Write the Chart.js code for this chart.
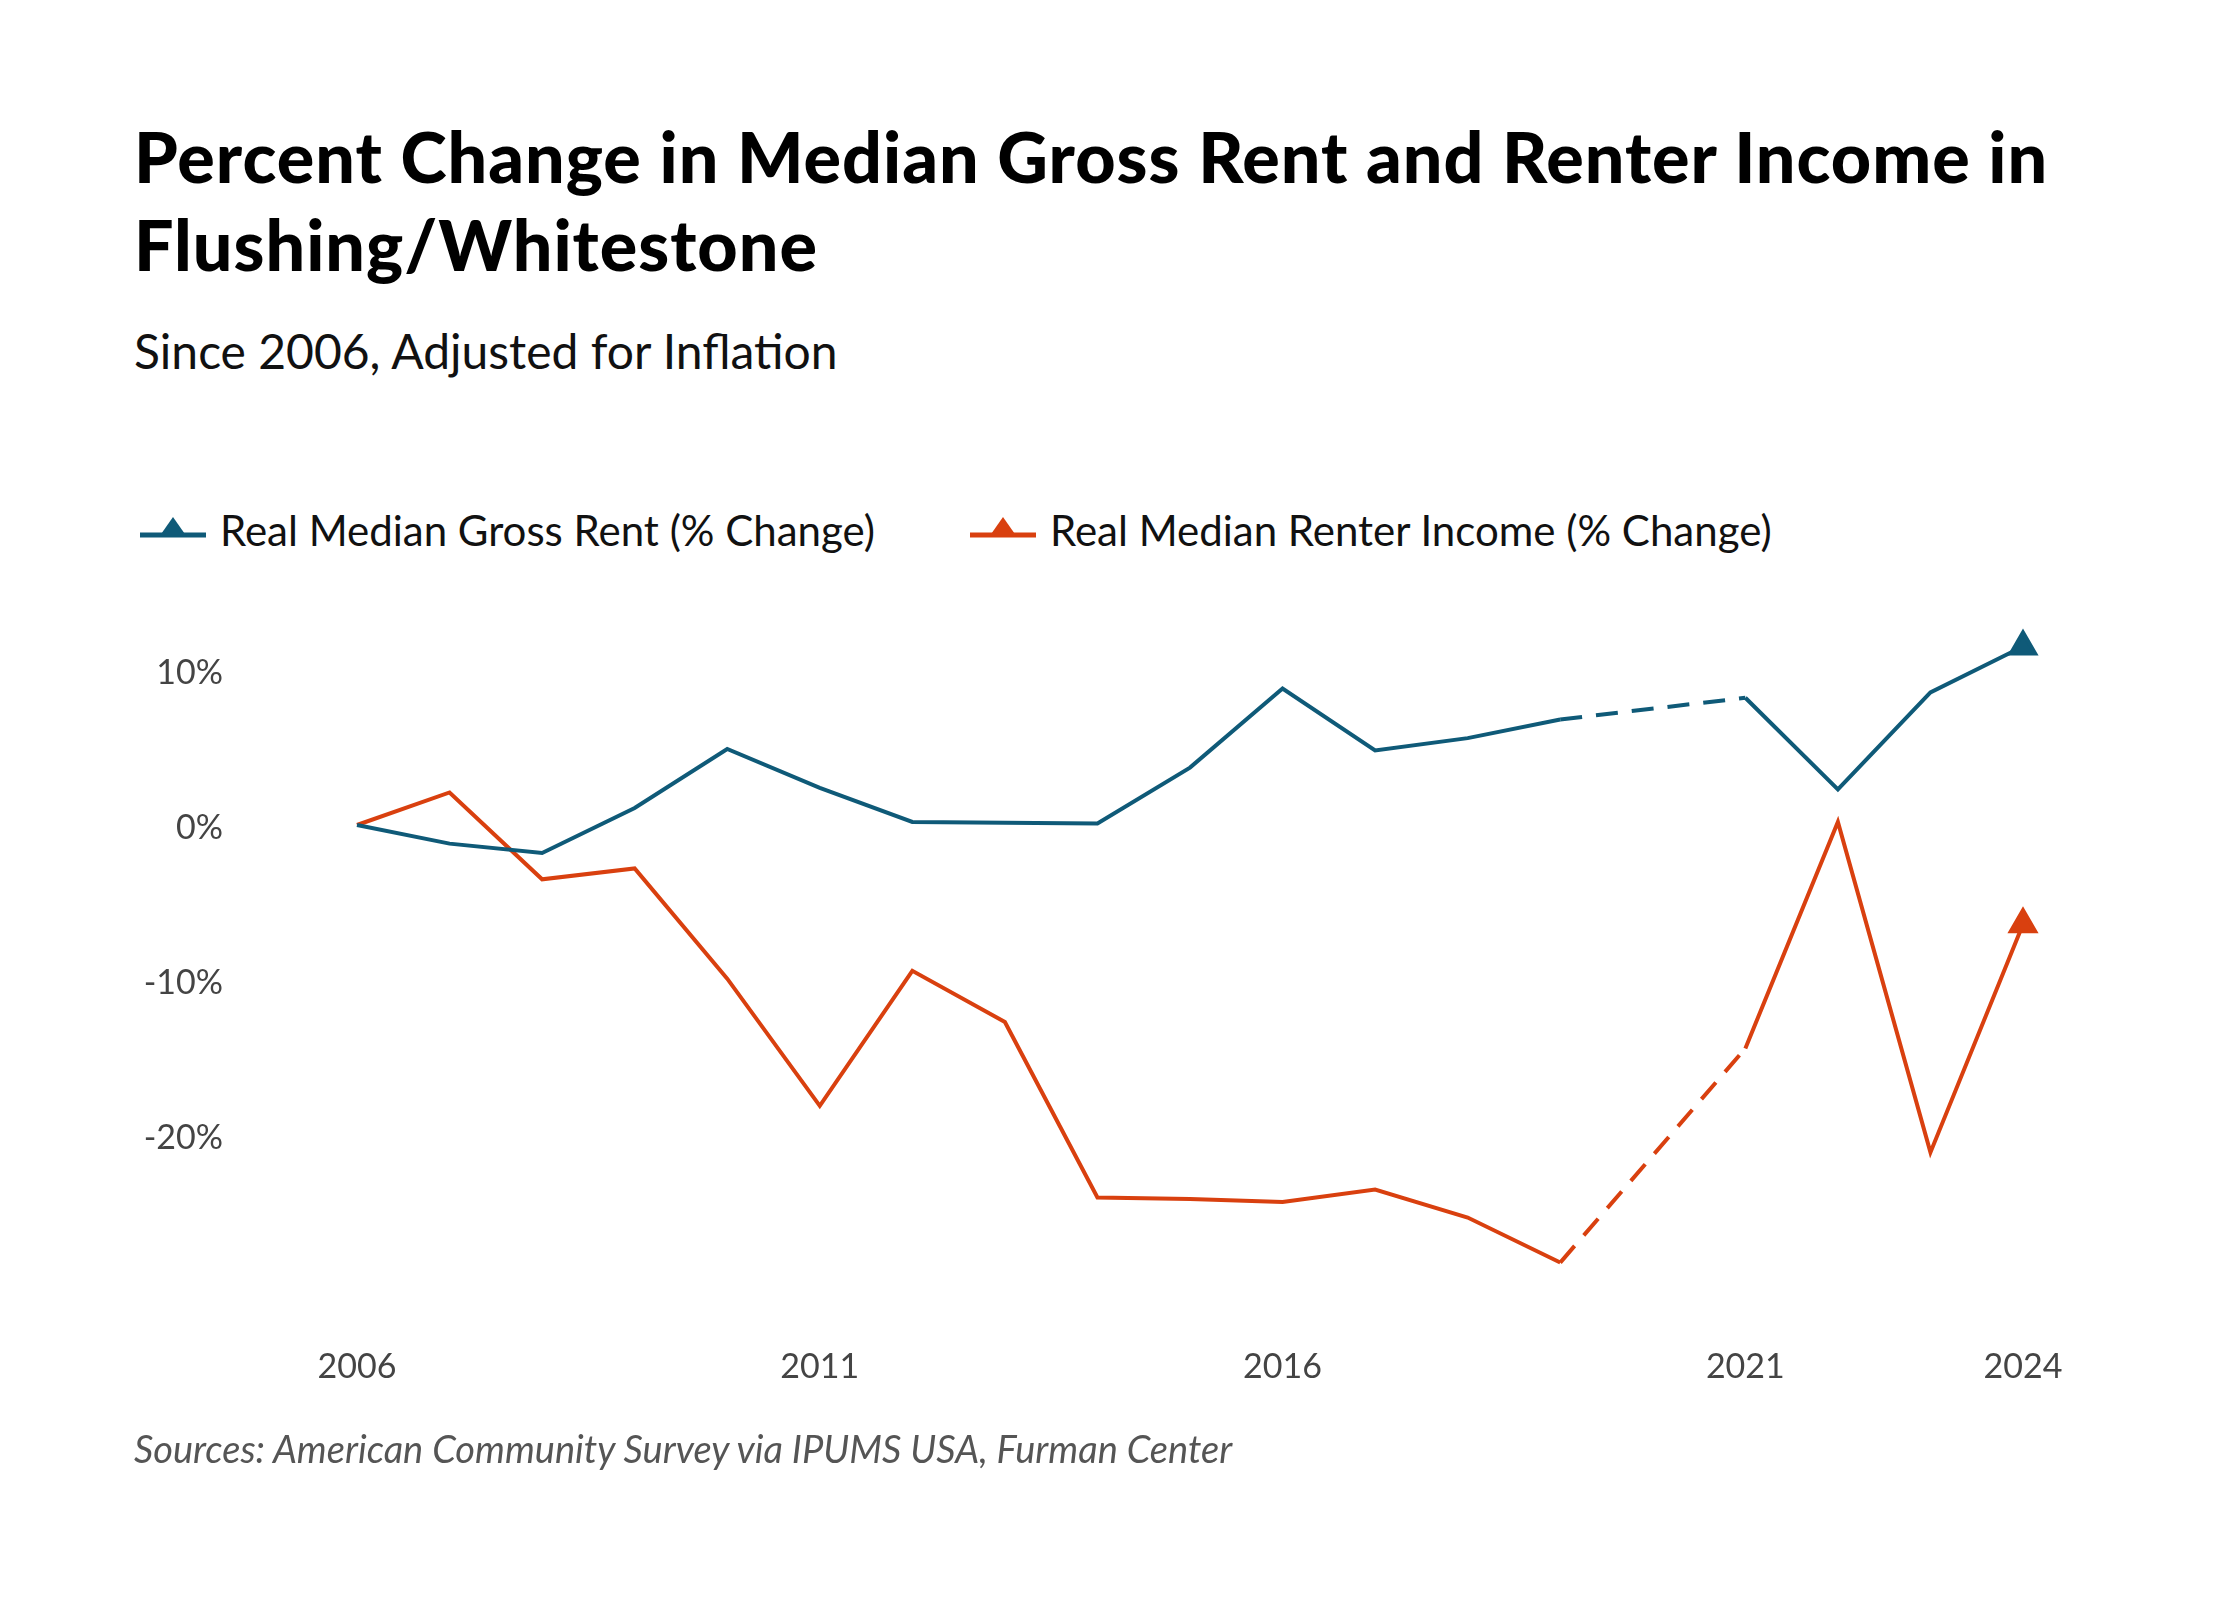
<!DOCTYPE html>
<html lang="en">
<head>
<meta charset="utf-8" />
<title>Flushing/Whitestone rent and income</title>
<script src="https://cdn.jsdelivr.net/npm/chart.js@4"></script>
<style>
  body { margin: 0; background: #fff; font-family: Lato, "Open Sans", sans-serif; }
  #wrap { position: relative; width: 2240px; height: 1600px; }
  h1 { position: absolute; left: 134px; top: 112px; margin: 0; font-size: 70px; line-height: 88px; font-weight: 900; letter-spacing: 1px; color: #000; width: 2000px; }
  .sub { position: absolute; left: 134px; top: 322px; font-size: 48px; color: #111; }
  .legend { position: absolute; left: 140px; top: 505px; font-size: 42px; color: #111; display: flex; gap: 95px; }
  .legend span { display: flex; align-items: center; gap: 14px; }
  .src { position: absolute; left: 134px; top: 1425px; font-size: 38px; font-style: italic; color: #555; }
  #box { position: absolute; left: 0; top: 480px; width: 2240px; height: 960px; }
</style>
</head>
<body>
<div id="wrap">
  <h1>Percent Change in Median Gross Rent and Renter Income in Flushing/Whitestone</h1>
  <div class="sub">Since 2006, Adjusted for Inflation</div>
  <div class="legend">
    <span><svg width="66" height="30"><line x1="0" y1="20" x2="66" y2="20" stroke="#0f5a78" stroke-width="5"/><polygon points="33,2 47,22 19,22" fill="#0f5a78"/></svg>Real Median Gross Rent (% Change)</span>
    <span><svg width="66" height="30"><line x1="0" y1="20" x2="66" y2="20" stroke="#d9400f" stroke-width="5"/><polygon points="33,2 47,22 19,22" fill="#d9400f"/></svg>Real Median Renter Income (% Change)</span>
  </div>
  <div id="box"><canvas id="chart"></canvas></div>
  <div class="src">Sources: American Community Survey via IPUMS USA, Furman Center</div>
</div>
<script>
const years = [2006, 2007, 2008, 2009, 2010, 2011, 2012, 2013, 2014, 2015, 2016, 2017, 2018, 2019, 2021, 2022, 2023, 2024];
const rentChange = [0.2, -1.0, -1.6, 1.3, 5.1, 2.6, 0.4, 0.35, 0.3, 3.9, 9.0, 5.0, 5.8, 7.0, 8.4, 2.5, 8.75, 11.7];
const incomeChange = [0.2, 2.3, -3.3, -2.6, -9.7, -17.9, -9.2, -12.5, -23.8, -23.9, -24.1, -23.3, -25.1, -28.0, -14.2, 0.4, -20.9, -6.2];
const xTicks = [2006, 2011, 2016, 2021, 2024];
const yTicks = [-20, -10, 0, 10];

const RENT = '#0f5a78', INCOME = '#d9400f';
const mk = (vals, color) => ({
  data: years.map((y, i) => ({ x: y, y: vals[i] })),
  borderColor: color, backgroundColor: color, borderWidth: 4,
  pointStyle: 'triangle', clip: false,
  pointRadius: ctx => ctx.dataIndex === years.length - 1 ? 14 : 0,
  pointHoverRadius: 0, tension: 0,
  segment: { borderDash: ctx => ctx.p0.parsed.x === 2019 ? [22, 14] : undefined }
});

new Chart(document.getElementById('chart'), {
  type: 'line',
  data: { datasets: [mk(rentChange, RENT), mk(incomeChange, INCOME)] },
  options: {
    responsive: true, maintainAspectRatio: false, animation: false,
    layout: { padding: { left: 120, right: 217, top: 42 } },
    plugins: { legend: { display: false }, tooltip: { enabled: false } },
    scales: {
      x: {
        type: 'linear', min: 2006, max: 2024,
        afterBuildTicks: s => { s.ticks = xTicks.map(v => ({ value: v })); },
        afterFit: s => { s.height = 110; },
        grid: { display: false }, border: { display: false },
        ticks: { padding: 45, color: '#444', font: { size: 34, family: 'Lato' }, callback: v => String(v) }
      },
      y: {
        min: -30, max: 13,
        afterBuildTicks: s => { s.ticks = yTicks.map(v => ({ value: v })); },
        afterFit: s => { s.width = 237; },
        grid: { display: false }, border: { display: false },
        ticks: { padding: 126, color: '#444', font: { size: 34, family: 'Lato' }, callback: v => v + '%' }
      }
    }
  }
});
</script>
</body>
</html>
